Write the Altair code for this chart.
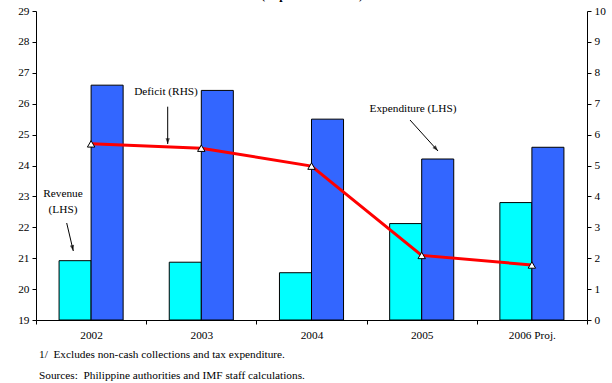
import altair as alt
import pandas as pd

# Fiscal aggregates, in percent of GDP
years = ["2002", "2003", "2004", "2005", "2006 Proj."]
revenue = [20.92, 20.87, 20.53, 22.12, 22.80]
expenditure = [26.60, 26.43, 25.50, 24.21, 24.59]
deficit = [5.70, 5.56, 4.98, 2.09, 1.78]

series_names = ["Revenue", "Expenditure"]
series_colors = ["#00FFFF", "#3366FF"]

FONT = "Liberation Serif"
NBSP = "\u00a0"

bars_df = pd.DataFrame(
    {
        "year": years * 2,
        "series": [series_names[0]] * len(years) + [series_names[1]] * len(years),
        "value": revenue + expenditure,
    }
)
deficit_df = pd.DataFrame({"year": years, "deficit": deficit})
one = pd.DataFrame({"k": [0]})

x_enc = alt.X(
    "year:N",
    sort=years,
    scale=alt.Scale(paddingInner=0, paddingOuter=0),
    axis=alt.Axis(
        title=None,
        labelAngle=0,
        tickBand="extent",
        tickSize=4,
        labelPadding=5,
    ),
)

bars = alt.Chart(bars_df).mark_bar(stroke="black", strokeWidth=1).encode(
    x=x_enc,
    xOffset=alt.XOffset(
        "series:N",
        sort=series_names,
        scale=alt.Scale(paddingInner=0, paddingOuter=0.72),
    ),
    y=alt.Y(
        "value:Q",
        scale=alt.Scale(domain=[19, 29], nice=False, zero=False),
        axis=alt.Axis(title=None, values=list(range(19, 30)), orient="left"),
    ),
    y2=alt.datum(19),
    color=alt.Color(
        "series:N",
        scale=alt.Scale(domain=series_names, range=series_colors),
        legend=None,
    ),
)

deficit_line = alt.Chart(deficit_df).mark_line(
    color="#FF0000",
    strokeWidth=3,
    point=alt.OverlayMarkDef(
        shape="triangle-up",
        filled=True,
        fill="white",
        stroke="black",
        strokeWidth=1,
        size=55,
    ),
).encode(
    x=alt.X("year:N", sort=years),
    y=alt.Y(
        "deficit:Q",
        scale=alt.Scale(domain=[0, 10], nice=False),
        axis=alt.Axis(title=None, values=list(range(0, 11)), orient="right"),
    ),
)


def label(text, x, y, size=11.3, weight="normal", baseline="middle", align="center"):
    return alt.Chart(pd.DataFrame({"t": [text]})).mark_text(
        font=FONT,
        fontSize=size,
        fontWeight=weight,
        color="black",
        align=align,
        baseline=baseline,
    ).encode(text="t:N", x=alt.value(x), y=alt.value(y))


# arrowhead with its tip at the symbol origin, pointing down
HEAD = "M0,0 L-0.55,-1.5 L0.55,-1.5 Z"


def arrow(x1, y1, x2, y2, angle):
    shaft = alt.Chart(one).mark_rule(color="black", strokeWidth=1).encode(
        x=alt.value(x1), y=alt.value(y1), x2=alt.value(x2), y2=alt.value(y2)
    )
    head = alt.Chart(one).mark_point(
        shape=HEAD, filled=True, fill="black", strokeWidth=0, size=60, angle=angle
    ).encode(x=alt.value(x2), y=alt.value(y2))
    return shaft + head


notes = alt.layer(
    label("(In percent of GDP)", 276, -12.5, size=12, weight="bold", baseline="alphabetic"),
    label("Deficit (RHS)", 130, 81),
    arrow(131.7, 95.7, 131.7, 133, 0),
    label("Revenue", 27, 183),
    label("(LHS)", 27, 199),
    arrow(30.7, 212, 37.3, 240, 347),
    label("Expenditure (LHS)", 377, 98),
    arrow(374, 109, 402, 140, 318),
    label("1/" + NBSP + " Excludes non-cash collections and tax expenditure.",
          3, 344, size=11.3, align="left"),
    label("Sources:" + NBSP + " Philippine authorities and IMF staff calculations.",
          3, 365, size=11.3, align="left"),
)

chart = (
    alt.layer(bars, deficit_line, notes)
    .resolve_scale(y="independent")
    .properties(
        width=551,
        height=309,
        autosize=alt.AutoSizeParams(type="none"),
        padding={"left": 36, "top": 11, "right": 25, "bottom": 63},
        background="white",
    )
    .configure_view(stroke=None)
    .configure_axis(
        grid=False,
        labelFont=FONT,
        labelFontSize=11.3,
        labelColor="black",
        domainColor="black",
        domainWidth=1,
        tickColor="black",
        tickSize=4,
        labelPadding=3,
    )
)

chart.save("out.html", embed_options={"renderer": "svg", "actions": False})
